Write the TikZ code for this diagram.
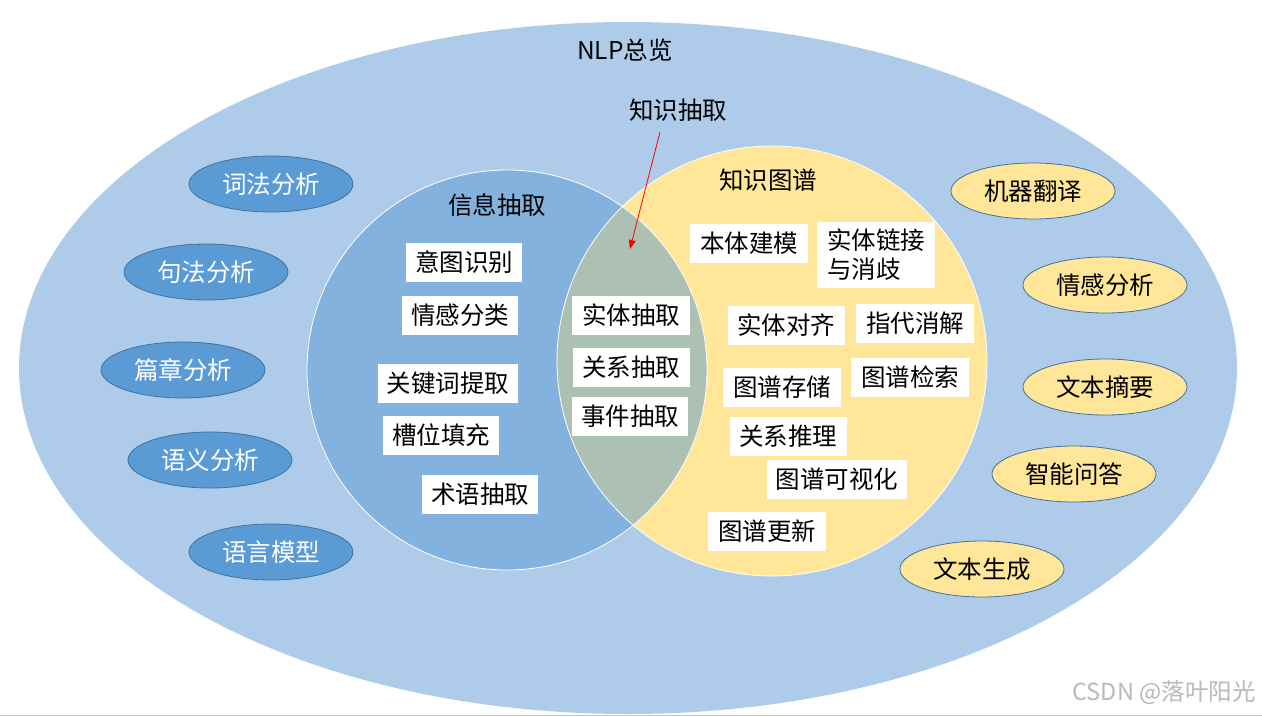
\documentclass[tikz,border=0pt]{standalone}
\usepackage{fontspec}
\setmainfont{Noto Sans CJK SC}
\usetikzlibrary{shapes.geometric,arrows.meta}
\definecolor{bigblue}{RGB}{174,204,234}
\definecolor{midblue}{RGB}{132,178,223}
\definecolor{kgyellow}{RGB}{255,230,153}
\definecolor{overlapc}{RGB}{172,192,180}
\definecolor{darkell}{RGB}{91,155,213}
\definecolor{ellborder}{RGB}{65,113,156}
\begin{document}
\begin{tikzpicture}[x=1pt,y=-1pt,
  every node/.style={font=\fontsize{24.5pt}{29pt}\selectfont},
  wbox/.style={fill=white, inner sep=0pt, minimum width=116pt, minimum height=39pt},
  wboxw/.style={wbox, minimum width=140pt},
  lell/.style={ellipse, draw=ellborder, line width=0.8pt, fill=darkell, text=white, minimum width=164pt, minimum height=56pt, inner sep=0pt},
  rell/.style={ellipse, draw=ellborder, line width=0.8pt, fill=kgyellow, text=black, minimum width=164pt, minimum height=56pt, inner sep=0pt},
  title/.style={inner sep=0pt}
]
\useasboundingbox (0,0) rectangle (1262,716);
\fill[white] (0,0) rectangle (1262,716);
% outer ellipse
\coordinate (big) at (628,368);
\fill[bigblue] (big) ellipse [x radius=609, y radius=346];
\draw[gray!45, line width=1pt] (0,715.3) -- (1262,715.3);
% circles
\coordinate (lc) at (507,370);
\coordinate (rc) at (772,361);
\fill[kgyellow] (rc) circle [radius=215];
\fill[midblue] (lc) circle [radius=200];
\begin{scope}
  \clip (lc) circle [radius=200];
  \fill[overlapc] (rc) circle [radius=215];
\end{scope}
\draw[white, line width=0.8pt] (rc) circle [radius=215];
\draw[white, line width=0.8pt] (lc) circle [radius=200];

% titles
\node[title] (nlp) at (625,50) {NLP总览};
\node[title] (ie) at (497,205) {信息抽取};
\node[title] (kg) at (768,180) {知识图谱};
\node[title] (ke) at (678,110) {知识抽取};
\coordinate (keS) at (660,132);
\coordinate (keT) at (630,249);
\draw[red, line width=0.8pt, -{Triangle[length=9pt,width=7pt]}] (keS) -- (keT);

% left circle boxes
\node[wbox] (b1) at (464,262) {意图识别};
\node[wbox] (b2) at (460,315) {情感分类};
\node[wboxw] (b3) at (448,383) {关键词提取};
\node[wbox] (b4) at (441,435) {槽位填充};
\node[wbox] (b5) at (480,494) {术语抽取};
% overlap boxes
\node[wbox, minimum width=118pt] (o1) at (631,315) {实体抽取};
\node[wbox, minimum width=117pt] (o2) at (631,367) {关系抽取};
\node[wbox] (o3) at (630,416) {事件抽取};
% right circle boxes
\node[wbox, minimum width=118pt] (k1) at (749,243) {本体建模};
\node[fill=white, inner xsep=8pt, inner ysep=4pt, align=left, minimum width=118pt, minimum height=66pt, font=\fontsize{24.5pt}{29pt}\selectfont] (k2) at (876,255) {实体链接\\与消歧};
\node[wbox, minimum width=117pt] (k3) at (786,325) {实体对齐};
\node[wbox, minimum width=118pt] (k4) at (915,323) {指代消解};
\node[wbox, minimum width=118pt] (k5) at (782,387) {图谱存储};
\node[wbox, minimum width=118pt] (k6) at (910,377) {图谱检索};
\node[wbox, minimum width=117pt] (k7) at (788,436) {关系推理};
\node[wboxw] (k8) at (837,479) {图谱可视化};
\node[wbox, minimum width=118pt] (k9) at (767,531) {图谱更新};

% left ellipses
\node[lell] (e1) at (271,184) {词法分析};
\node[lell] (e2) at (206,272) {句法分析};
\node[lell] (e3) at (183,370) {篇章分析};
\node[lell] (e4) at (210,460) {语义分析};
\node[lell] (e5) at (271,552) {语言模型};
% right ellipses
\node[rell] (r1) at (1033,191) {机器翻译};
\node[rell] (r2) at (1105,285) {情感分析};
\node[rell] (r3) at (1105,387) {文本摘要};
\node[rell] (r4) at (1074,474) {智能问答};
\node[rell] (r5) at (982,569) {文本生成};

% watermark
\node[title, text=gray!55, font=\fontsize{23.5pt}{27pt}\selectfont] (wm) at (1164,693) {CSDN @落叶阳光};
\end{tikzpicture}
\end{document}
